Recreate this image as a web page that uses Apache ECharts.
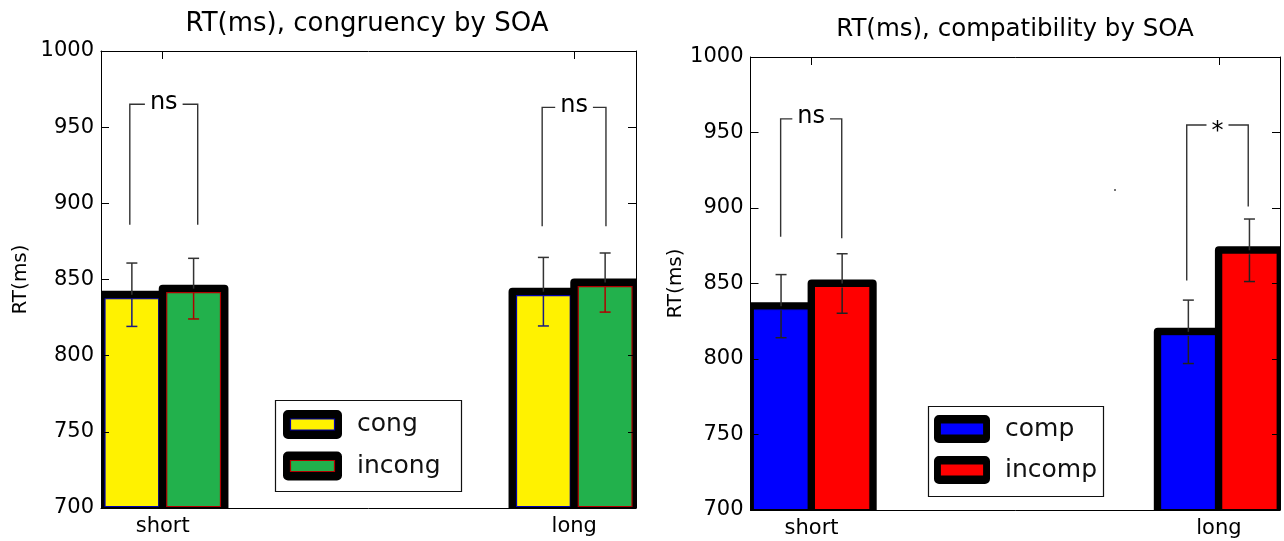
<!DOCTYPE html>
<html>
<head>
<meta charset="utf-8">
<script src="https://cdn.jsdelivr.net/npm/echarts@6/dist/echarts.min.js"></script>
<style>
  html, body { margin: 0; padding: 0; background: #fff; }
  #chart { width: 1284px; height: 541px; }
</style>
</head>
<body>
<div id="chart"></div>
<script>
// ---- data ----------------------------------------------------------
const categories = ['short', 'long'];
const yMin = 700, yMax = 1000, yStep = 50;

// congruency panel (mean RT and error, ms)
const congMeans = [840, 842];
const congErrs = [20.8, 22.5];
const incongMeans = [844, 848];
const incongErrs = [19.9, 19.4];

// compatibility panel (mean RT and error, ms)
const compMeans = [835, 818];
const compErrs = [20.9, 21.0];
const incompMeans = [850, 872];
const incompErrs = [19.7, 20.7];

// significance brackets: [category, left leg offset, right leg offset, top, left foot, right foot]
const congBrackets = [[0, -0.080, 0.085, 965, 886, 886], [1, -0.078, 0.077, 963, 885, 885]];
const congMarks = ['ns', 'ns'];
const compBrackets = [[0, -0.076, 0.074, 959, 881, 880], [1, -0.079, 0.072, 955, 852, 901]];
const compMarks = ['ns', '*'];

// ---- drawing helpers -------------------------------------------------
const FONT = 'DejaVu Sans';
const BAR_W = 0.15;
const EDGE_W = 8;

function barRenderer(offset, fill, edge, innerErr) {
  return function (params, api) {
    const cat = api.value(0), mean = api.value(1), err = api.value(2);
    const cxVal = cat + offset;
    const tl = api.coord([cxVal - BAR_W / 2, mean]);
    const br = api.coord([cxVal + BAR_W / 2, yMin]);
    const left = tl[0], right = br[0], top = tl[1], bottom = br[1];
    const h = EDGE_W / 2;
    const cx = api.coord([cxVal, mean])[0];
    const eTop = api.coord([cxVal, mean + err])[1];
    const eBot = api.coord([cxVal, mean - err])[1];
    const cap = 5.5;
    return {
      type: 'group',
      children: [
        { type: 'rect', shape: { x: left, y: top, width: right - left, height: bottom - top + 30 },
          style: { fill: '#000', stroke: '#000', lineWidth: EDGE_W, lineJoin: 'round' } },
        { type: 'rect', shape: { x: left + h, y: top + h, width: right - left - EDGE_W, height: bottom - 1.5 - (top + h) },
          style: { fill: fill, stroke: edge, lineWidth: 1.2 } },
        { type: 'line', shape: { x1: cx, y1: eTop, x2: cx, y2: top }, style: { stroke: '#333', lineWidth: 1.5 } },
        { type: 'line', shape: { x1: cx - cap, y1: eTop, x2: cx + cap, y2: eTop }, style: { stroke: '#333', lineWidth: 1.5 } },
        { type: 'line', shape: { x1: cx, y1: top + h, x2: cx, y2: eBot }, style: { stroke: innerErr, lineWidth: 1.5 } },
        { type: 'line', shape: { x1: cx - cap, y1: eBot, x2: cx + cap, y2: eBot }, style: { stroke: innerErr, lineWidth: 1.5 } }
      ]
    };
  };
}

const markShift = { 'ns': -2, '*': 7 };
function bracketRenderer(marks) {
  return function (params, api) {
    const c = api.value(0);
    const pL = api.coord([c + api.value(1), api.value(3)]);
    const pR = api.coord([c + api.value(2), api.value(3)]);
    const fL = api.coord([c + api.value(1), api.value(4)]);
    const fR = api.coord([c + api.value(2), api.value(5)]);
    const mark = marks[params.dataIndex];
    return {
      type: 'group',
      children: [
        { type: 'polyline', shape: { points: [[fL[0], fL[1]], [pL[0], pL[1]], [pR[0], pR[1]], [fR[0], fR[1]]] },
          style: { stroke: '#333', lineWidth: 1.4, fill: null } },
        { type: 'text', x: (pL[0] + pR[0]) / 2, y: pL[1] + (markShift[mark] || 0),
          style: { text: mark, fontSize: 24, fontFamily: FONT, fill: '#000', align: 'center', verticalAlign: 'middle',
                   backgroundColor: '#fff', padding: [0, 5] } }
      ]
    };
  };
}

function rows(means, errs) {
  return categories.map((c, i) => [i, means[i], errs[i]]);
}

function xAxes(gridIndex) {
  const base = {
    type: 'value', gridIndex: gridIndex, min: -0.15, max: 1.15, z: 5,
    axisLine: { onZero: false, lineStyle: { color: '#000', width: 1 } },
    axisTick: { inside: true, length: 8, customValues: [0, 1], lineStyle: { color: '#000' } },
    splitLine: { show: false }
  };
  return [
    Object.assign({}, base, { position: 'bottom',
      axisLabel: { customValues: [0, 1], formatter: v => categories[Math.round(v)], fontSize: 21, fontFamily: FONT, color: '#000', margin: 8 } }),
    Object.assign({}, base, { position: 'top', axisLabel: { show: false } })
  ];
}

function yAxes(gridIndex, nameGap) {
  const base = {
    type: 'value', gridIndex: gridIndex, min: yMin, max: yMax, interval: yStep, z: 5,
    axisLine: { show: true, onZero: false, lineStyle: { color: '#000', width: 1 } },
    axisTick: { show: true, inside: true, length: 8, lineStyle: { color: '#000' } },
    splitLine: { show: false }
  };
  return [
    Object.assign({}, base, { position: 'left', name: 'RT(ms)', nameLocation: 'middle', nameGap: nameGap,
      nameTextStyle: { fontSize: 20, fontFamily: FONT, color: '#000' },
      axisLabel: { fontSize: 21, fontFamily: FONT, color: '#000', margin: 7, formatter: v => String(v) } }),
    Object.assign({}, base, { position: 'right', axisLabel: { show: false } })
  ];
}

function legendGroup(box, patch, textX, entries) {
  const children = [
    { type: 'rect', shape: box, style: { fill: '#fff', stroke: '#111', lineWidth: 1.2 } }
  ];
  entries.forEach((e, i) => {
    const y = patch.y + i * patch.step;
    children.push({ type: 'rect', shape: { x: patch.x, y: y, width: patch.w, height: patch.h, r: 1 },
      style: { fill: '#000', stroke: '#000', lineWidth: EDGE_W, lineJoin: 'round' } });
    children.push({ type: 'rect', shape: { x: patch.x + 3.5, y: y + 5, width: patch.w - 7, height: patch.h - 10 },
      style: { fill: e.fill, stroke: e.edge, lineWidth: 1.2 } });
    children.push({ type: 'text', x: textX, y: y + patch.h / 2,
      style: { text: e.name, fontSize: 25, fontFamily: FONT, fill: '#111', align: 'left', verticalAlign: 'middle' } });
  });
  return { type: 'group', z: 20, children: children };
}

// ---- chart -----------------------------------------------------------
const chart = echarts.init(document.getElementById('chart'), null, { renderer: 'canvas' });

chart.setOption({
  backgroundColor: '#fff',
  animation: false,
  title: [
    { text: 'RT(ms), congruency by SOA', left: 367, top: 11, textAlign: 'center', padding: 0,
      textStyle: { fontSize: 26, fontWeight: 'normal', fontFamily: FONT, color: '#000' } },
    { text: 'RT(ms), compatibility by SOA', left: 1015, top: 17, textAlign: 'center', padding: 0,
      textStyle: { fontSize: 24.5, fontWeight: 'normal', fontFamily: FONT, color: '#000' } }
  ],
  grid: [
    { left: 101, top: 51, width: 535, height: 457 },
    { left: 750.5, top: 57, width: 529.5, height: 453 }
  ],
  xAxis: xAxes(0).concat(xAxes(1)),
  yAxis: yAxes(0, 70).concat(yAxes(1, 64)),
  series: [
    { type: 'custom', name: 'cong', xAxisIndex: 0, yAxisIndex: 0, clip: true, z: 2,
      data: rows(congMeans, congErrs), renderItem: barRenderer(-BAR_W / 2, '#FFF200', '#0000B0', '#1a1a80') },
    { type: 'custom', name: 'incong', xAxisIndex: 0, yAxisIndex: 0, clip: true, z: 2,
      data: rows(incongMeans, incongErrs), renderItem: barRenderer(BAR_W / 2, '#22B14C', '#B00000', '#B00000') },
    { type: 'custom', name: 'congSig', xAxisIndex: 0, yAxisIndex: 0, clip: true, z: 3,
      data: congBrackets, renderItem: bracketRenderer(congMarks) },
    { type: 'custom', name: 'comp', xAxisIndex: 2, yAxisIndex: 2, clip: true, z: 2,
      data: rows(compMeans, compErrs), renderItem: barRenderer(-BAR_W / 2, '#0000FF', '#0000FF', '#222') },
    { type: 'custom', name: 'incomp', xAxisIndex: 2, yAxisIndex: 2, clip: true, z: 2,
      data: rows(incompMeans, incompErrs), renderItem: barRenderer(BAR_W / 2, '#FF0000', '#FF0000', '#222') },
    { type: 'custom', name: 'compSig', xAxisIndex: 2, yAxisIndex: 2, clip: true, z: 3,
      data: compBrackets, renderItem: bracketRenderer(compMarks) }
  ],
  graphic: [
    legendGroup({ x: 275.5, y: 400.5, width: 186, height: 91 },
      { x: 287, y: 414, w: 51, h: 21, step: 41.5 }, 357,
      [{ name: 'cong', fill: '#FFF200', edge: '#0000B0' }, { name: 'incong', fill: '#22B14C', edge: '#B00000' }]),
    legendGroup({ x: 928.5, y: 406.5, width: 175, height: 90 },
      { x: 938, y: 419, w: 48, h: 20, step: 41 }, 1005,
      [{ name: 'comp', fill: '#0000FF', edge: '#0000FF' }, { name: 'incomp', fill: '#FF0000', edge: '#FF0000' }]),
    { type: 'circle', shape: { cx: 1115, cy: 190, r: 1 }, style: { fill: '#444' }, z: 20 }
  ]
});
</script>
</body>
</html>
